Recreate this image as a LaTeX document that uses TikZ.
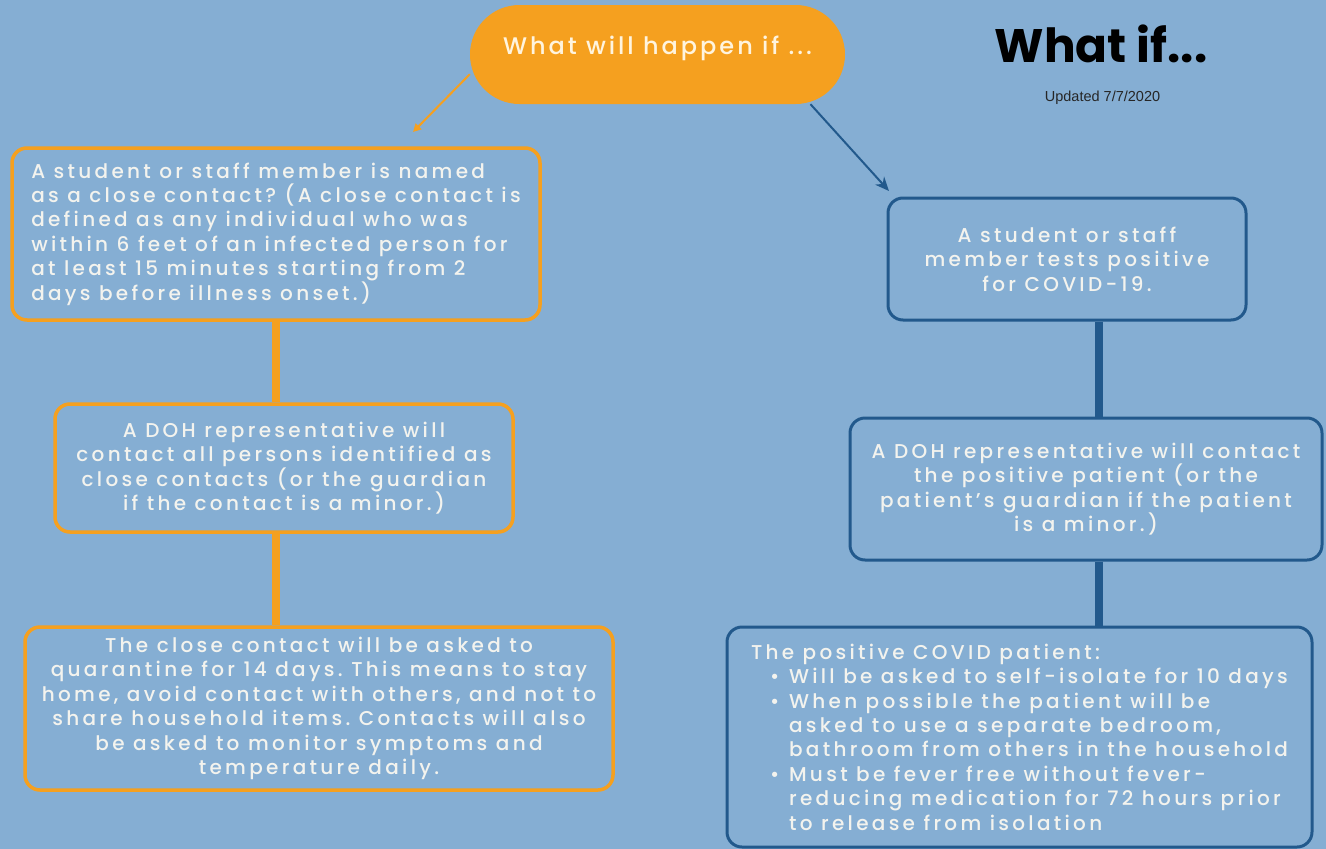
\documentclass[tikz,border=0pt]{standalone}
\usepackage{fontspec}
\setmainfont{Poppins}[UprightFont=* Medium, LetterSpace=16.5]
\newfontfamily\pillfont{Poppins}[UprightFont=* Medium, LetterSpace=12.5]
\newfontfamily\titlefont{Poppins}
\newfontfamily\smallfont{Liberation Sans}
\usetikzlibrary{arrows.meta,calc}
\frenchspacing
\definecolor{bg}{HTML}{85AED3}
\definecolor{orng}{HTML}{F5A01F}
\definecolor{dblue}{HTML}{22598C}
\definecolor{txt}{HTML}{F3F3EE}
\definecolor{pilltxt}{HTML}{FFF4DE}
\newcommand{\bodyfont}{\frenchspacing\fontsize{20}{24.4}\selectfont}
\tikzset{
  obox/.style={draw=orng, line width=3.5pt, rounded corners=15pt, text=txt, inner sep=0pt, font=\bodyfont},
  bbox/.style={draw=dblue, line width=3pt, rounded corners=15pt, text=txt, inner sep=0pt, font=\bodyfont},
  oline/.style={draw=orng, line width=8pt},
  bline/.style={draw=dblue, line width=8pt},
}
\begin{document}
\begin{tikzpicture}[x=1pt,y=-1pt]
\fill[bg] (0,0) rectangle (1326,849);
\useasboundingbox (0,0) rectangle (1326,849);
% pill
\node[fill=orng, rounded corners=49.5pt, minimum width=375pt, minimum height=99pt, inner sep=0pt,
  text=pilltxt, font=\pillfont\fontsize{24}{28}\selectfont, text height=17pt, text depth=17pt] (pill) at (657.5,54.5) {What will happen if ...};
% title
\node[font=\titlefont\bfseries\fontsize{47}{54}\selectfont, text=black, anchor=base, inner sep=0pt] (title) at (1101,62) {What if...};
\node[font=\smallfont\fontsize{14.5}{16}\selectfont, text=black!85, anchor=base, inner sep=0pt] (upd) at (1102.5,101) {Updated 7/7/2020};
% left boxes
\node[obox, minimum width=528pt, minimum height=172pt, align=left] (b1) at (276,234) {A student or staff member is named\\
as a close contact? (A close contact is\\
defined as any individual who was\\
within 6 feet of an infected person for\\
at least 15 minutes starting from 2\\
days before illness onset.)};
\node[obox, minimum width=458pt, minimum height=128pt, align=center] (b2) at (284,468) {A DOH representative will\\
contact all persons identified as\\
close contacts (or the guardian\\
if the contact is a minor.)};
\node[obox, minimum width=588pt, minimum height=163pt, align=center] (b3) at (319,708.5) {The close contact will be asked to\\
quarantine for 14 days. This means to stay\\
home, avoid contact with others, and not to\\
share household items. Contacts will also\\
be asked to monitor symptoms and\\
temperature daily.};
% right boxes
\node[bbox, minimum width=358pt, minimum height=122pt, align=center] (r1) at (1067,259) {A student or staff\\
member tests positive\\
for COVID-19.};
\node[bbox, minimum width=472pt, minimum height=142pt, align=center] (r2) at (1086,489) {A DOH representative will contact\\
the positive patient (or the\\
patient's guardian if the patient\\
is a minor.)};
\node[bbox, minimum width=585pt, minimum height=220pt, align=left] (r3) at (1019.5,737) {The positive COVID patient:\\
\hspace*{19pt}\makebox[19pt][l]{•}Will be asked to self-isolate for 10 days\\
\hspace*{19pt}\makebox[19pt][l]{•}When possible the patient will be\\
\hspace*{38pt}asked to use a separate bedroom,\\
\hspace*{38pt}bathroom from others in the household\\
\hspace*{19pt}\makebox[19pt][l]{•}Must be fever free without fever-\\
\hspace*{38pt}reducing medication for 72 hours prior\\
\hspace*{38pt}to release from isolation};
% connectors
\draw[oline] (b1.south) -- (b1.south |- b2.north);
\draw[oline] (b2.south -| b1.south) -- (b3.north -| b1.south);
\coordinate (rx) at (1099,0);
\draw[bline] (r1.south -| rx) -- (r2.north -| rx);
\draw[bline] (r2.south -| rx) -- (r3.north -| rx);
% arrows
\coordinate (oa) at (413,132);
\draw[orng, line width=2pt, -{Triangle[length=8pt,width=8pt]}] (pill.186) -- (oa);
\coordinate (ba) at (889,191);
\draw[dblue, line width=2pt, -{Stealth[length=14pt,width=12pt]}] (pill.-18) -- (ba);
\end{tikzpicture}
\end{document}
